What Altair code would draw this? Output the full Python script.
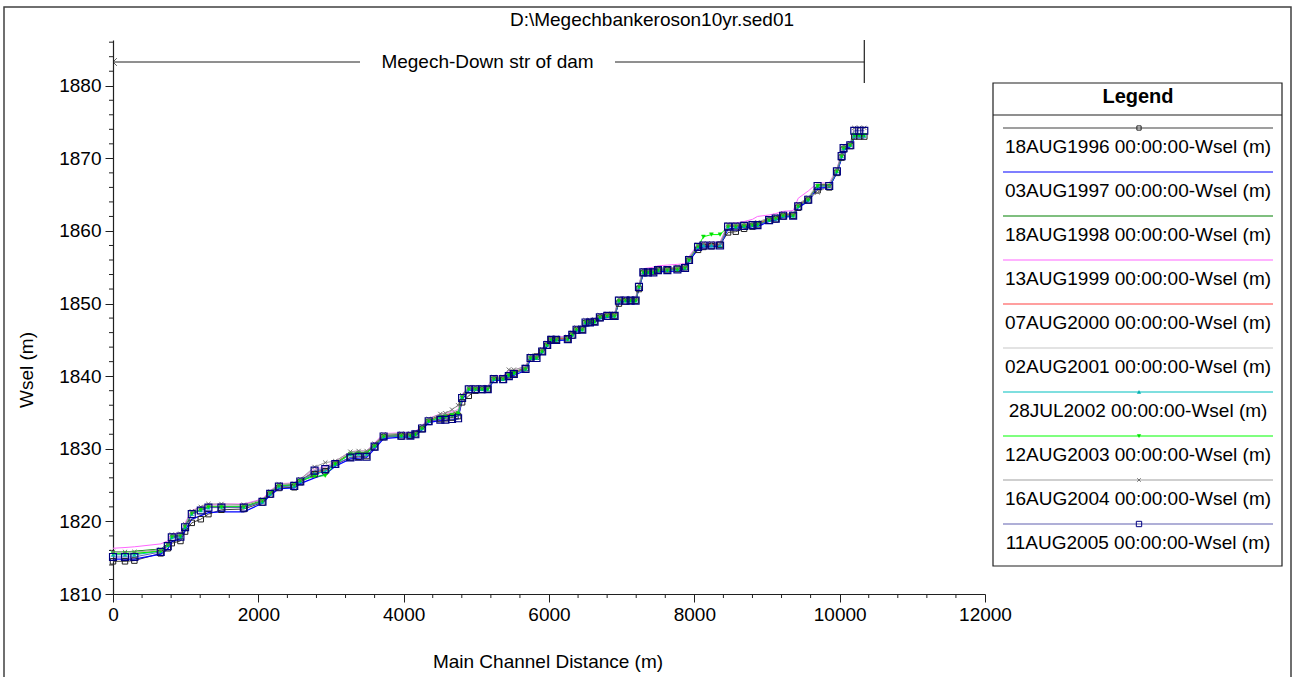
import altair as alt
import pandas as pd

# ---------------- data ----------------
station = [0, 165, 294, 657, 754, 809, 928, 992, 1084, 1208,
           1313, 1492, 1800, 2057, 2163, 2283, 2494, 2577, 2774, 2921,
           3059, 3266, 3380, 3490, 3600, 3724, 3968, 4092, 4161, 4253,
           4344, 4505, 4574, 4666, 4749, 4804, 4896, 4988, 5080, 5157,
           5240, 5369, 5447, 5516, 5677, 5746, 5828, 5906, 5975, 6030,
           6099, 6259, 6320, 6379, 6458, 6503, 6563, 6627, 6700, 6802,
           6903, 6962, 7054, 7123, 7192, 7238, 7298, 7362, 7436, 7500,
           7629, 7767, 7872, 7927, 8051, 8125, 8235, 8354, 8464, 8570,
           8685, 8800, 8869, 9029, 9121, 9222, 9360, 9429, 9567, 9696,
           9856, 9962, 10027, 10054, 10146, 10201, 10270, 10339]

w1996 = [1814.5, 1814.5, 1814.6, 1815.6, 1816.3, 1817.0, 1817.3, 1818.6, 1819.8, 1820.3,
         1821.0, 1821.6, 1821.7, 1822.6, 1823.7, 1824.6, 1824.7, 1825.4, 1826.5, 1826.9,
         1827.8, 1828.8, 1828.9, 1829.0, 1830.2, 1831.6, 1831.7, 1831.8, 1832.0, 1832.7,
         1833.7, 1834.1, 1834.2, 1834.3, 1834.5, 1836.4, 1837.3, 1838.0, 1838.1, 1838.2,
         1839.5, 1839.5, 1840.1, 1840.3, 1841.1, 1842.6, 1842.7, 1843.4, 1844.2, 1845.0,
         1845.0, 1845.1, 1845.6, 1846.3, 1846.4, 1847.3, 1847.4, 1847.5, 1848.0, 1848.2,
         1848.3, 1850.0, 1850.3, 1850.4, 1850.4, 1852.0, 1854.2, 1854.3, 1854.4, 1854.6,
         1854.6, 1854.8, 1855.0, 1855.9, 1857.4, 1857.8, 1857.9, 1858.1, 1859.8, 1859.9,
         1860.3, 1860.6, 1860.8, 1861.4, 1861.6, 1862.0, 1862.1, 1863.2, 1864.2, 1865.6,
         1866.0, 1868.0, 1870.1, 1871.2, 1871.7, 1873.0, 1873.0, 1873.0]

w1997 = [1814.8, 1814.8, 1814.8, 1815.5, 1816.2, 1817.2, 1817.6, 1818.8, 1820.3, 1820.8,
         1821.2, 1821.3, 1821.3, 1822.5, 1823.6, 1824.5, 1824.6, 1825.2, 1826.0, 1826.5,
         1827.6, 1828.6, 1828.7, 1828.8, 1830.0, 1831.4, 1831.6, 1831.6, 1831.8, 1832.6,
         1833.6, 1833.9, 1833.9, 1834.0, 1834.1, 1836.8, 1838.0, 1838.1, 1838.1, 1838.1,
         1839.4, 1839.5, 1839.9, 1840.1, 1840.8, 1842.3, 1842.4, 1843.2, 1844.1, 1844.8,
         1844.9, 1845.0, 1845.5, 1846.2, 1846.3, 1847.2, 1847.3, 1847.4, 1847.9, 1848.1,
         1848.2, 1850.2, 1850.3, 1850.3, 1850.3, 1852.1, 1854.1, 1854.2, 1854.2, 1854.4,
         1854.4, 1854.5, 1854.7, 1855.8, 1857.6, 1857.8, 1857.8, 1857.9, 1860.3, 1860.4,
         1860.5, 1860.6, 1860.6, 1861.3, 1861.5, 1861.9, 1862.0, 1863.2, 1864.1, 1865.9,
         1866.0, 1868.0, 1870.0, 1871.1, 1871.6, 1872.8, 1872.8, 1872.8]

w1998 = [1815.8, 1815.8, 1815.9, 1816.2, 1816.9, 1818.0, 1818.1, 1819.4, 1821.2, 1821.7,
         1822.1, 1822.1, 1822.1, 1822.9, 1824.0, 1825.0, 1825.1, 1825.7, 1826.8, 1827.1,
         1828.1, 1829.4, 1829.5, 1829.5, 1830.6, 1831.9, 1832.0, 1832.0, 1832.2, 1833.0,
         1834.0, 1834.6, 1834.7, 1834.9, 1835.2, 1837.3, 1838.4, 1838.4, 1838.4, 1838.4,
         1839.8, 1839.8, 1840.3, 1840.6, 1841.2, 1842.7, 1842.7, 1843.6, 1844.5, 1845.2,
         1845.2, 1845.3, 1845.9, 1846.6, 1846.6, 1847.6, 1847.6, 1847.7, 1848.3, 1848.5,
         1848.5, 1850.6, 1850.6, 1850.6, 1850.6, 1852.5, 1854.5, 1854.5, 1854.5, 1854.8,
         1854.8, 1854.9, 1855.1, 1856.2, 1858.0, 1858.2, 1858.2, 1858.2, 1860.8, 1860.8,
         1860.9, 1861.0, 1861.1, 1861.7, 1861.9, 1862.3, 1862.3, 1863.6, 1864.5, 1866.4,
         1866.4, 1868.4, 1870.5, 1871.6, 1872.0, 1873.0, 1873.0, 1873.0]

w1999 = [1816.3, 1816.4, 1816.5, 1816.9, 1817.3, 1818.3, 1818.4, 1819.8, 1821.5, 1822.0,
         1822.3, 1822.4, 1822.4, 1823.1, 1824.2, 1825.2, 1825.3, 1825.9, 1827.2, 1827.5,
         1828.3, 1829.6, 1829.7, 1829.7, 1830.8, 1832.1, 1832.2, 1832.2, 1832.4, 1833.2,
         1834.2, 1834.8, 1834.9, 1835.1, 1835.4, 1837.5, 1838.6, 1838.6, 1838.6, 1838.6,
         1840.0, 1840.1, 1840.6, 1840.8, 1841.4, 1842.9, 1842.9, 1843.8, 1844.7, 1845.4,
         1845.4, 1845.5, 1846.1, 1846.8, 1846.8, 1847.8, 1847.8, 1847.9, 1848.5, 1848.7,
         1848.7, 1850.8, 1850.8, 1850.8, 1850.8, 1852.7, 1854.8, 1854.9, 1855.0, 1855.2,
         1855.3, 1855.4, 1855.5, 1856.5, 1858.2, 1858.4, 1858.4, 1858.5, 1861.0, 1861.1,
         1861.3, 1861.6, 1862.0, 1862.2, 1862.4, 1862.7, 1862.8, 1864.5, 1865.5, 1866.6,
         1866.6, 1868.6, 1870.7, 1871.8, 1872.2, 1873.1, 1873.1, 1873.1]

w2000 = [1815.5, 1815.5, 1815.5, 1816.0, 1816.8, 1817.9, 1818.0, 1819.3, 1821.1, 1821.6,
         1822.0, 1822.0, 1822.0, 1822.8, 1823.9, 1824.9, 1825.0, 1825.6, 1826.7, 1827.0,
         1828.0, 1829.3, 1829.4, 1829.4, 1830.5, 1831.8, 1831.9, 1831.9, 1832.1, 1832.9,
         1833.9, 1834.5, 1834.6, 1834.8, 1835.0, 1837.2, 1838.3, 1838.3, 1838.3, 1838.3,
         1839.7, 1839.7, 1840.2, 1840.5, 1841.1, 1842.6, 1842.6, 1843.5, 1844.4, 1845.1,
         1845.1, 1845.2, 1845.8, 1846.5, 1846.5, 1847.5, 1847.5, 1847.6, 1848.2, 1848.4,
         1848.4, 1850.5, 1850.5, 1850.5, 1850.5, 1852.4, 1854.4, 1854.4, 1854.4, 1854.7,
         1854.7, 1854.8, 1855.0, 1856.1, 1857.9, 1858.1, 1858.1, 1858.1, 1860.7, 1860.7,
         1860.8, 1860.9, 1861.0, 1861.6, 1861.8, 1862.2, 1862.2, 1863.5, 1864.4, 1866.3,
         1866.3, 1868.3, 1870.4, 1871.5, 1871.9, 1872.9, 1872.9, 1872.9]

w2001 = [1815.7, 1815.7, 1815.7, 1816.1, 1816.9, 1818.1, 1818.2, 1819.5, 1821.3, 1821.8,
         1822.2, 1822.2, 1822.2, 1823.0, 1824.1, 1825.1, 1825.2, 1825.8, 1827.1, 1827.4,
         1828.2, 1829.5, 1829.6, 1829.6, 1830.7, 1832.0, 1832.1, 1832.1, 1832.3, 1833.1,
         1834.1, 1834.7, 1834.8, 1835.0, 1835.3, 1837.4, 1838.5, 1838.5, 1838.5, 1838.5,
         1839.9, 1839.9, 1840.4, 1840.7, 1841.3, 1842.8, 1842.8, 1843.7, 1844.6, 1845.3,
         1845.3, 1845.4, 1846.0, 1846.7, 1846.7, 1847.7, 1847.7, 1847.8, 1848.4, 1848.6,
         1848.6, 1850.7, 1850.7, 1850.7, 1850.7, 1852.6, 1854.6, 1854.6, 1854.6, 1854.9,
         1854.9, 1855.0, 1855.2, 1856.3, 1858.1, 1858.3, 1858.3, 1858.3, 1860.9, 1860.9,
         1861.0, 1861.1, 1861.2, 1861.8, 1862.0, 1862.4, 1862.4, 1863.7, 1864.6, 1866.5,
         1866.5, 1868.5, 1870.6, 1871.7, 1872.1, 1873.2, 1873.2, 1873.2]

w2002 = [1815.4, 1815.4, 1815.4, 1815.9, 1816.7, 1817.8, 1817.9, 1819.2, 1821.0, 1821.5,
         1821.9, 1822.0, 1822.0, 1822.7, 1823.8, 1824.8, 1824.9, 1825.5, 1826.6, 1826.9,
         1827.9, 1829.2, 1829.3, 1829.3, 1830.4, 1831.7, 1831.8, 1831.8, 1832.0, 1832.8,
         1833.8, 1834.4, 1834.5, 1834.7, 1834.9, 1837.1, 1838.2, 1838.2, 1838.2, 1838.2,
         1839.6, 1839.6, 1840.1, 1840.4, 1841.0, 1842.5, 1842.5, 1843.4, 1844.3, 1845.0,
         1845.0, 1845.1, 1845.7, 1846.4, 1846.4, 1847.4, 1847.4, 1847.5, 1848.1, 1848.3,
         1848.3, 1850.4, 1850.4, 1850.4, 1850.4, 1852.3, 1854.3, 1854.3, 1854.3, 1854.6,
         1854.6, 1854.7, 1854.9, 1856.0, 1857.8, 1858.0, 1858.0, 1858.0, 1860.6, 1860.6,
         1860.7, 1860.8, 1860.8, 1861.5, 1861.7, 1862.1, 1862.1, 1863.4, 1864.3, 1866.2,
         1866.2, 1868.2, 1870.3, 1871.4, 1871.8, 1873.1, 1873.1, 1873.1]

w2003 = [1815.6, 1815.6, 1815.6, 1815.9, 1816.7, 1817.9, 1818.0, 1819.3, 1821.1, 1821.6,
         1822.0, 1822.0, 1822.0, 1822.8, 1823.9, 1824.9, 1825.0, 1825.6, 1826.2, 1826.3,
         1827.9, 1829.3, 1829.4, 1829.4, 1830.4, 1831.7, 1831.8, 1831.8, 1832.0, 1832.8,
         1833.8, 1834.3, 1834.4, 1834.6, 1834.8, 1837.1, 1838.2, 1838.2, 1838.2, 1838.2,
         1839.6, 1839.6, 1840.1, 1840.4, 1841.0, 1842.5, 1842.5, 1843.4, 1844.3, 1845.0,
         1845.0, 1845.1, 1845.7, 1846.4, 1846.4, 1847.4, 1847.4, 1847.5, 1848.1, 1848.3,
         1848.3, 1850.4, 1850.4, 1850.4, 1850.4, 1852.3, 1854.3, 1854.3, 1854.3, 1854.6,
         1854.6, 1854.7, 1854.9, 1856.0, 1857.9, 1859.2, 1859.5, 1859.5, 1860.6, 1860.6,
         1860.7, 1860.8, 1860.9, 1861.5, 1861.7, 1862.1, 1862.1, 1863.4, 1864.3, 1866.2,
         1866.2, 1868.2, 1870.3, 1871.4, 1871.8, 1873.2, 1873.2, 1873.2]

w2004 = [1815.8, 1815.8, 1815.8, 1816.1, 1816.9, 1818.2, 1818.3, 1819.6, 1821.4, 1822.0,
         1822.4, 1822.4, 1822.3, 1823.0, 1824.1, 1825.1, 1825.2, 1825.8, 1827.5, 1828.1,
         1828.3, 1829.6, 1829.7, 1829.7, 1830.7, 1832.0, 1832.1, 1832.1, 1832.3, 1833.1,
         1834.1, 1834.8, 1834.9, 1835.4, 1836.0, 1837.4, 1838.5, 1838.5, 1838.5, 1838.5,
         1839.9, 1839.9, 1840.9, 1840.9, 1841.3, 1842.8, 1842.8, 1843.7, 1844.6, 1845.3,
         1845.3, 1845.4, 1846.0, 1846.7, 1846.7, 1847.7, 1847.7, 1847.8, 1848.4, 1848.6,
         1848.6, 1850.7, 1850.7, 1850.7, 1850.7, 1852.6, 1854.6, 1854.6, 1854.6, 1854.9,
         1854.9, 1855.0, 1855.2, 1856.3, 1858.1, 1858.3, 1858.3, 1858.3, 1860.9, 1860.9,
         1861.0, 1861.1, 1861.2, 1861.8, 1862.0, 1862.4, 1862.4, 1863.7, 1864.6, 1865.3,
         1866.2, 1868.5, 1870.6, 1871.7, 1872.1, 1874.2, 1874.2, 1874.2]

w2005 = [1815.1, 1815.1, 1815.1, 1815.8, 1816.6, 1817.8, 1817.9, 1819.2, 1821.0, 1821.5,
         1821.9, 1821.9, 1821.9, 1822.7, 1823.8, 1824.8, 1824.9, 1825.5, 1827.0, 1827.2,
         1827.9, 1828.8, 1828.9, 1828.9, 1830.3, 1831.7, 1831.8, 1831.8, 1832.0, 1832.8,
         1833.8, 1834.0, 1834.0, 1834.1, 1834.2, 1837.0, 1838.2, 1838.2, 1838.2, 1838.2,
         1839.6, 1839.6, 1840.0, 1840.3, 1841.0, 1842.5, 1842.5, 1843.4, 1844.3, 1845.0,
         1845.0, 1845.1, 1845.7, 1846.4, 1846.4, 1847.4, 1847.4, 1847.5, 1848.1, 1848.3,
         1848.3, 1850.4, 1850.4, 1850.4, 1850.4, 1852.3, 1854.3, 1854.3, 1854.3, 1854.6,
         1854.6, 1854.7, 1854.9, 1856.0, 1857.8, 1858.0, 1858.0, 1858.0, 1860.6, 1860.6,
         1860.7, 1860.8, 1860.8, 1861.5, 1861.7, 1862.1, 1862.1, 1863.4, 1864.3, 1866.2,
         1866.2, 1868.2, 1870.3, 1871.4, 1871.8, 1873.8, 1873.8, 1873.8]

series_names = [
    "18AUG1996 00:00:00-Wsel (m)",
    "03AUG1997 00:00:00-Wsel (m)",
    "18AUG1998 00:00:00-Wsel (m)",
    "13AUG1999 00:00:00-Wsel (m)",
    "07AUG2000 00:00:00-Wsel (m)",
    "02AUG2001 00:00:00-Wsel (m)",
    "28JUL2002 00:00:00-Wsel (m)",
    "12AUG2003 00:00:00-Wsel (m)",
    "16AUG2004 00:00:00-Wsel (m)",
    "11AUG2005 00:00:00-Wsel (m)",
]
series_values = [w1996, w1997, w1998, w1999, w2000, w2001, w2002, w2003, w2004, w2005]

x_ticks = [0, 2000, 4000, 6000, 8000, 10000, 12000]
y_ticks = [1810, 1820, 1830, 1840, 1850, 1860, 1870, 1880]
reach_name = "Megech-Down str of dam"
plot_title = "D:\\Megechbankeroson10yr.sed01"

# ---------------- styles ----------------
line_colors = ["#404040", "#0000ff", "#008000", "#ff66ff", "#ff4040",
               "#c8c8c8", "#00c0c0", "#00ff00", "#a0a0a0", "#6060b0"]
line_widths = [1.0, 1.2, 1.0, 1.0, 1.0, 1.0, 1.0, 1.0, 1.0, 1.0]
XSHAPE = "M-1,-1L1,1M-1,1L1,-1"
# (shape, size, filled, color)
markers = [("square", 30, False, "#202020"), None, None, None, None, None,
           ("triangle-up", 14, True, "#00b0b0"), ("triangle-down", 16, True, "#00e000"),
           (XSHAPE, 18, False, "#707070"), ("square", 48, False, "#000080")]

FONT = "Liberation Sans"
W, H = 872, 554
PL, PT = 113, 40
xs = alt.Scale(domain=[0, 12000], nice=False, zero=False)
ys = alt.Scale(domain=[1810, 1886.3], nice=False, zero=False)

axis_x = alt.Axis(values=x_ticks, format="d", title=None, grid=False, tickSize=8, tickColor="#202020",
                  domainColor="#202020", domainWidth=1.2, labelFont=FONT, labelFontSize=19,
                  labelColor="black", labelPadding=3, labelFlush=False)
axis_y = alt.Axis(values=y_ticks, format="d", title=None, grid=False, tickSize=8, tickColor="#202020",
                  domainColor="#202020", domainWidth=1.2, labelFont=FONT, labelFontSize=19,
                  labelColor="black", labelPadding=4)


def X(field):
    return alt.X(field, scale=xs, axis=axis_x)


def Y(field):
    return alt.Y(field, scale=ys, axis=axis_y)


rows = []
for name, vals in zip(series_names, series_values):
    for s, v in zip(station, vals):
        rows.append({"series": name, "station": s, "wsel": v})
df = pd.DataFrame(rows)
one = pd.DataFrame({"a": [0]})

layers = []

# outer frame
layers.append(alt.Chart(one).mark_rect(fill="white", fillOpacity=0, stroke="#404040", strokeWidth=1.5).encode(
    x=alt.value(4 - PL), x2=alt.value(1291 - PL), y=alt.value(7 - PT), y2=alt.value(700 - PT)))

# minor ticks
xminor = pd.DataFrame({"station": [v for v in range(400, 12000, 400) if v % 2000 != 0]})
yminor = pd.DataFrame({"wsel": [v for v in range(1812, 1887, 2) if v % 10 != 0]})
layers.append(alt.Chart(xminor).mark_rule(color="#202020", strokeWidth=1).encode(
    x=X("station:Q"), y=alt.value(H), y2=alt.value(H + 4)))
layers.append(alt.Chart(yminor).mark_rule(color="#202020", strokeWidth=1).encode(
    y=Y("wsel:Q"), x=alt.value(-4), x2=alt.value(0)))

# series lines
for i, name in enumerate(series_names):
    sub = df[df["series"] == name]
    layers.append(alt.Chart(sub).mark_line(color=line_colors[i], strokeWidth=line_widths[i]).encode(
        x=X("station:Q"), y=Y("wsel:Q")))

# markers
for i, name in enumerate(series_names):
    m = markers[i]
    if m is None:
        continue
    shape, size, filled, col = m
    sub = df[df["series"] == name]
    kw = dict(shape=shape, size=size, filled=filled, opacity=1)
    if filled:
        kw.update(fill=col, stroke=col, strokeWidth=0.5)
    else:
        kw.update(stroke=col, strokeWidth=1.2 if i == 9 else 1.0)
    layers.append(alt.Chart(sub).mark_point(**kw).encode(x=X("station:Q"), y=Y("wsel:Q")))

# reach marker (arrow) at top
reach_df = pd.DataFrame({"station": [station[0]], "end": [station[-1]]})
gap_l, gap_r = 360 - PL, 615 - PL
ay = 62 - PT
layers.append(alt.Chart(reach_df).mark_rule(color="#202020", strokeWidth=1).encode(
    x=X("station:Q"), x2=alt.value(gap_l), y=alt.value(ay)))
layers.append(alt.Chart(reach_df).mark_rule(color="#202020", strokeWidth=1).encode(
    x=X("end:Q"), x2=alt.value(gap_r), y=alt.value(ay)))
layers.append(alt.Chart(reach_df).mark_rule(color="#202020", strokeWidth=1.2).encode(
    x=X("end:Q"), y=alt.value(0), y2=alt.value(83 - PT)))
layers.append(alt.Chart(reach_df).mark_point(shape="M1,-1L0,0L1,1", size=60, filled=False,
                                             stroke="#202020", strokeWidth=1).encode(
    x=X("station:Q"), y=alt.value(ay)))
layers.append(alt.Chart(one).mark_text(text=reach_name, font=FONT, fontSize=19, color="black",
                                       align="center", baseline="middle").encode(
    x=alt.value((gap_l + gap_r) / 2), y=alt.value(ay)))

# title and axis titles
layers.append(alt.Chart(one).mark_text(text=plot_title, font=FONT, fontSize=19, color="black",
                                       align="center", baseline="middle").encode(
    x=alt.value(652 - PL), y=alt.value(20 - PT)))
layers.append(alt.Chart(one).mark_text(text="Main Channel Distance (m)", font=FONT, fontSize=19,
                                       color="black", align="center", baseline="middle").encode(
    x=alt.value(548 - PL), y=alt.value(662 - PT)))
layers.append(alt.Chart(one).mark_text(text="Wsel (m)", font=FONT, fontSize=19, color="black",
                                       align="center", baseline="middle", angle=270).encode(
    x=alt.value(27 - PL), y=alt.value(370 - PT)))

# legend box
LX0, LX1 = 993 - PL, 1282 - PL
layers.append(alt.Chart(one).mark_rect(fill="white", stroke="#202020", strokeWidth=1.2).encode(
    x=alt.value(LX0), x2=alt.value(LX1), y=alt.value(83 - PT), y2=alt.value(566 - PT)))
layers.append(alt.Chart(one).mark_rule(color="#202020", strokeWidth=1.2).encode(
    x=alt.value(LX0), x2=alt.value(LX1), y=alt.value(115 - PT)))
layers.append(alt.Chart(one).mark_text(text="Legend", font=FONT, fontSize=20, fontWeight="bold",
                                       color="black", align="center", baseline="middle").encode(
    x=alt.value(1138 - PL), y=alt.value(97 - PT)))
for i, name in enumerate(series_names):
    ly = 128 + 44 * i - PT
    ty = 147 + 44 * i - PT
    layers.append(alt.Chart(one).mark_rule(color=line_colors[i], strokeWidth=1.2).encode(
        x=alt.value(1003 - PL), x2=alt.value(1273 - PL), y=alt.value(ly)))
    m = markers[i]
    if m is not None:
        shape, size, filled, col = m
        kw = dict(shape=shape, size=max(size * 0.6, 12), filled=filled, opacity=1)
        if filled:
            kw.update(fill=col, stroke=col, strokeWidth=0.5)
        else:
            kw.update(stroke=col, strokeWidth=1.0)
        layers.append(alt.Chart(one).mark_point(**kw).encode(x=alt.value(1139 - PL), y=alt.value(ly)))
    layers.append(alt.Chart(one).mark_text(text=name, font=FONT, fontSize=19, color="black",
                                           align="center", baseline="middle").encode(
        x=alt.value(1138 - PL), y=alt.value(ty)))

chart = alt.layer(*layers).properties(
    width=W, height=H,
    autosize=alt.AutoSizeParams(type="none"),
    padding={"left": PL, "top": PT, "right": 1296 - PL - W, "bottom": 677 - PT - H},
    background="white",
).configure_view(stroke=None)

chart.save("out.html", embed_options={"renderer": "svg", "actions": False})
